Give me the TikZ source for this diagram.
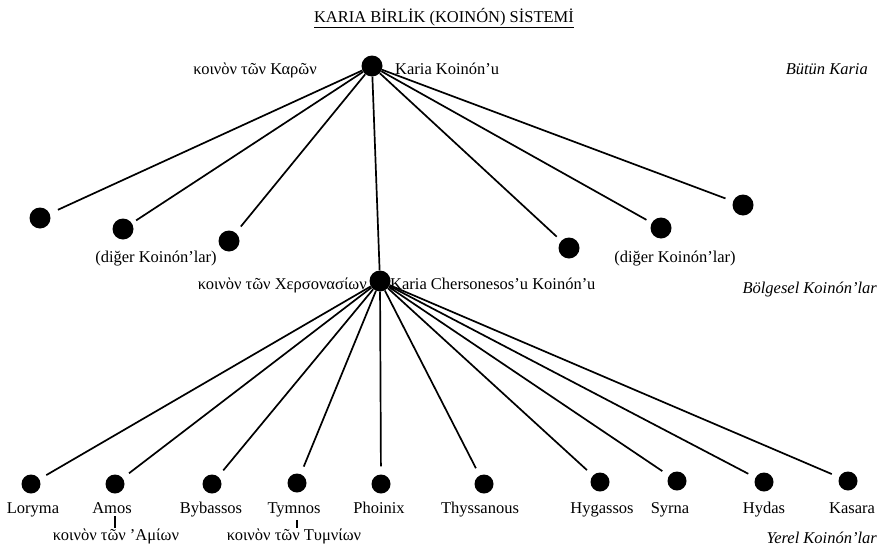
\documentclass[tikz,border=0pt]{standalone}
\usepackage{fontspec}
\setmainfont{Liberation Serif}
\begin{document}
\begin{tikzpicture}[x=1pt,y=-1pt]
\tikzstyle{every node}+=[inner sep=0pt,font=\fontsize{16.5}{19}\selectfont]
\tikzstyle{dot}=[circle,fill=black,minimum size=21pt]
\tikzstyle{smalldot}=[circle,fill=black,minimum size=19pt]
\tikzstyle{link}=[black,line width=1.7pt,shorten >=7pt]
\tikzstyle{levelname}=[anchor=base east,font=\fontsize{16.5}{19}\selectfont\itshape]
\useasboundingbox (0,0) rectangle (881,549);
\node [anchor=base] (title) at (444,22) {\underline{KARIA BİRLİK (KOINÓN) SİSTEMİ}};
\node [dot] (karia) at (372,66) {};
\node [anchor=base east] (kariagr) at (317,74) {κοινὸν τῶν Καρῶν};
\node [anchor=base west] (kariatr) at (395,74) {Karia Koinón’u};
\node [levelname] (butun) at (868,74) {Bütün Karia};
\node [dot] (k1) at (40,218) {};
\node [dot] (k2) at (123,229) {};
\node [dot] (k3) at (229,241) {};
\node [dot] (k4) at (569,248) {};
\node [dot] (k5) at (661,228) {};
\node [dot] (k6) at (743,205) {};
\node [anchor=base] (digerL) at (156,262) {(diğer Koinón’lar)};
\node [anchor=base] (digerR) at (675,262) {(diğer Koinón’lar)};
\draw [link,shorten >=9pt] (karia) -- (k1);
\draw [link,shorten >=5pt] (karia) -- (k2);
\draw [link,shorten >=8pt] (karia) -- (k3);
\draw [link,shorten >=6pt] (karia) -- (k4);
\draw [link,shorten >=6pt] (karia) -- (k5);
\draw [link,shorten >=8pt] (karia) -- (k6);
\node [dot] (chers) at (380,281) {};
\draw [link,shorten >=0pt] (karia) -- (chers);
\node [anchor=base east] (chersgr) at (367,289) {κοινὸν τῶν Χερσονασίων};
\node [anchor=base west] (cherstr) at (390,289) {Karia Chersonesos’u Koinón’u};
\node [levelname] (bolgesel) at (877,293) {Bölgesel Koinón’lar};
\node [smalldot] (loryma) at (31,484) {};
\node [smalldot] (amos) at (115,484) {};
\node [smalldot] (bybassos) at (212,484) {};
\node [smalldot] (tymnos) at (297,483) {};
\node [smalldot] (phoinix) at (381,484) {};
\node [smalldot] (thyssanous) at (484,484) {};
\node [smalldot] (hygassos) at (600,482) {};
\node [smalldot] (syrna) at (677,481) {};
\node [smalldot] (hydas) at (764,482) {};
\node [smalldot] (kasara) at (848,481) {};
\node [anchor=base] (lorymal) at (33,513) {Loryma};
\node [anchor=base] (amosl) at (112,513) {Amos};
\node [anchor=base] (bybassosl) at (211,513) {Bybassos};
\node [anchor=base] (tymnosl) at (294,513) {Tymnos};
\node [anchor=base] (phoinixl) at (379,513) {Phoinix};
\node [anchor=base] (thyssanousl) at (480,513) {Thyssanous};
\node [anchor=base] (hygassosl) at (602,513) {Hygassos};
\node [anchor=base] (syrnal) at (670,513) {Syrna};
\node [anchor=base] (hydasl) at (764,513) {Hydas};
\node [anchor=base] (kasaral) at (852,513) {Kasara};
\node [anchor=base] (amosgr) at (116,540) {κοινὸν τῶν ’Αμίων};
\node [anchor=base] (tymnosgr) at (294,540) {κοινὸν τῶν Τυμνίων};
\node [levelname] (yerel) at (877,543) {Yerel Koinón’lar};
\draw [black,line width=1.3pt] (amos |- amosl.south) ++(0,3) -- (amos |- amosgr.north);
\draw [black,line width=1.3pt] (tymnos |- tymnosl.south) ++(0,3) -- (tymnos |- tymnosgr.north);
\foreach \t in {loryma,amos,bybassos,tymnos,phoinix,thyssanous,hygassos,syrna,hydas,kasara}
  \draw [link,shorten >=8pt] (chers) -- (\t);
\end{tikzpicture}
\end{document}
